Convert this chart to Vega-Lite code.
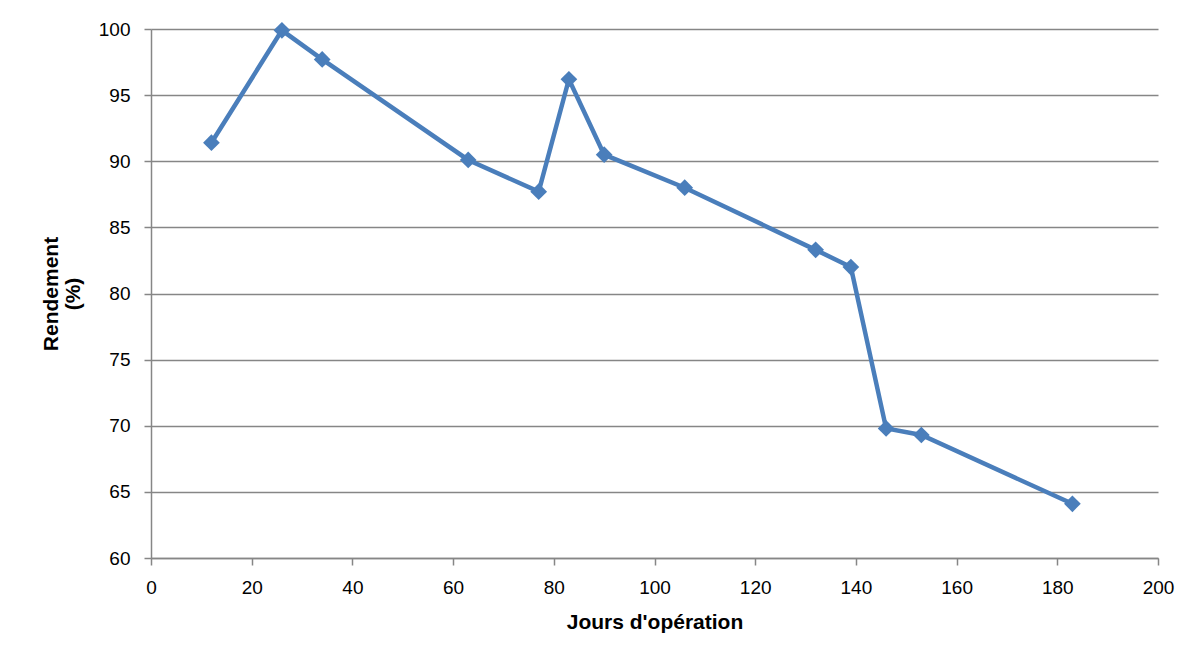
{
  "$schema": "https://vega.github.io/schema/vega-lite/v6.json",
  "width": 1007,
  "height": 529,
  "autosize": {"type": "none"},
  "padding": {"left": 151, "top": 29, "right": 28, "bottom": 100},
  "background": "white",
  "config": {
    "view": {"stroke": null},
    "font": "Liberation Sans",
    "axis": {
      "labelFont": "Liberation Sans",
      "labelFontSize": 19,
      "labelColor": "#000000",
      "titleFont": "Liberation Sans",
      "titleFontSize": 21,
      "titleFontWeight": "bold",
      "titleColor": "#000000",
      "domainColor": "#868686",
      "domainWidth": 1.5,
      "tickColor": "#868686",
      "tickWidth": 1.5,
      "tickSize": 7,
      "gridColor": "#868686",
      "gridWidth": 1.5
    }
  },
  "data": {
    "values": [
      {"jours": 12, "rendement": 91.4},
      {"jours": 26, "rendement": 99.9},
      {"jours": 34, "rendement": 97.7},
      {"jours": 63, "rendement": 90.1},
      {"jours": 77, "rendement": 87.7},
      {"jours": 83, "rendement": 96.2},
      {"jours": 90, "rendement": 90.5},
      {"jours": 106, "rendement": 88.0},
      {"jours": 132, "rendement": 83.3},
      {"jours": 139, "rendement": 82.0},
      {"jours": 146, "rendement": 69.8},
      {"jours": 153, "rendement": 69.3},
      {"jours": 183, "rendement": 64.1}
    ]
  },
  "mark": {
    "type": "line",
    "color": "#4A7EBB",
    "strokeWidth": 4.5,
    "point": {"shape": "diamond", "size": 280, "filled": true, "color": "#4A7EBB", "opacity": 1}
  },
  "encoding": {
    "x": {
      "field": "jours",
      "type": "quantitative",
      "scale": {"domain": [0, 200], "nice": false, "zero": true},
      "axis": {
        "title": "Jours d'opération",
        "values": [0, 20, 40, 60, 80, 100, 120, 140, 160, 180, 200],
        "grid": false,
        "labelPadding": 13,
        "titlePadding": 14,
        "labelFlush": false
      }
    },
    "y": {
      "field": "rendement",
      "type": "quantitative",
      "scale": {"domain": [60, 100], "nice": false, "zero": false},
      "axis": {
        "title": ["Rendement", "(%)"],
        "values": [60, 65, 70, 75, 80, 85, 90, 95, 100],
        "grid": true,
        "labelPadding": 14,
        "titlePadding": 15,
        "titleLineHeight": 22,
        "labelFlush": false
      }
    }
  }
}
